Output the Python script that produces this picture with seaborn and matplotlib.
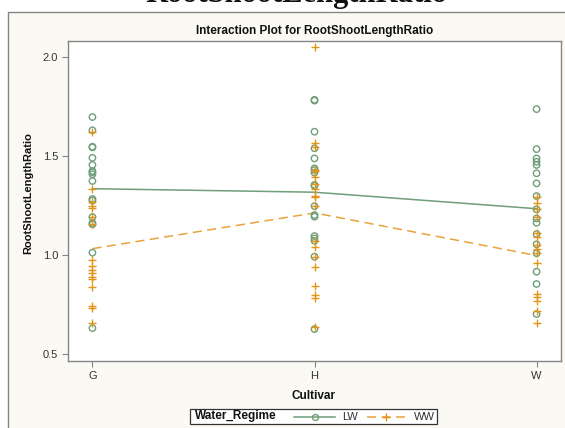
import matplotlib
matplotlib.use("Agg")
import matplotlib.pyplot as plt
from matplotlib.patches import Rectangle
from matplotlib.lines import Line2D
import numpy as np
import pandas as pd
import seaborn as sns

# Root/shoot length ratio per plant, grouped by cultivar and water regime
cultivars = ["G", "H", "W"]
regimes = ["LW", "WW"]

g_lw = [1.697, 1.630, 1.547, 1.544, 1.491, 1.455, 1.424, 1.418, 1.408, 1.374,
        1.283, 1.275, 1.192, 1.162, 1.155, 1.012, 0.631]
g_ww = [1.620, 1.333, 1.270, 1.249, 1.236, 1.194, 1.158, 0.975, 0.946, 0.924,
        0.907, 0.887, 0.877, 0.840, 0.744, 0.731, 0.658]
h_lw = [1.784, 1.780, 1.623, 1.539, 1.488, 1.438, 1.429, 1.416, 1.354, 1.350,
        1.247, 1.202, 1.194, 1.096, 1.084, 1.072, 0.992, 0.626]
h_ww = [2.052, 1.567, 1.544, 1.430, 1.424, 1.395, 1.357, 1.333, 1.300, 1.295,
        1.247, 1.069, 1.042, 0.992, 0.941, 0.843, 0.798, 0.781, 0.635]
w_lw = [1.737, 1.535, 1.488, 1.471, 1.455, 1.413, 1.362, 1.298, 1.231, 1.185,
        1.163, 1.106, 1.054, 1.009, 0.916, 0.854, 0.702]
w_ww = [1.295, 1.261, 1.231, 1.190, 1.113, 1.092, 1.050, 1.029, 1.009, 0.961,
        0.803, 0.786, 0.769, 0.719, 0.658]

y_ticks = [0.5, 1.0, 1.5, 2.0]
y_tick_labels = ["0.5", "1.0", "1.5", "2.0"]

groups = {("G", "LW"): g_lw, ("G", "WW"): g_ww,
          ("H", "LW"): h_lw, ("H", "WW"): h_ww,
          ("W", "LW"): w_lw, ("W", "WW"): w_ww}
rows = []
for (cult, reg), vals in groups.items():
    for v in vals:
        rows.append({"Cultivar": cult, "Water_Regime": reg, "RootShootLengthRatio": v})
df = pd.DataFrame(rows)

LW_COLOR = "#6F9E78"
WW_COLOR = "#E5941A"
WW_LINE = "#E9A23C"
FRAME_BG = "#FBF9F3"
SPINE = "#858585"

W_PX, H_PX = 565, 428
fig = plt.figure(figsize=(W_PX / 100, H_PX / 100), dpi=100, facecolor="white")
plt.rcParams["font.family"] = ["Liberation Sans", "DejaVu Sans"]


def fx(px):
    return px / W_PX


def fy(py):
    return 1 - py / H_PX


# cream graph frame, kept behind the axes
fig.patches.append(Rectangle((fx(8), fy(440)), fx(570) - fx(8), fy(12) - fy(440),
                             transform=fig.transFigure, facecolor=FRAME_BG,
                             edgecolor=SPINE, linewidth=1.0, zorder=-5))

ax = fig.add_axes([fx(68), fy(361), fx(561) - fx(68), fy(41) - fy(361)])
ax.set_facecolor("white")

# raw observations
lw_df = df[df["Water_Regime"] == "LW"]
ww_df = df[df["Water_Regime"] == "WW"]
sns.stripplot(data=lw_df, x="Cultivar", y="RootShootLengthRatio", order=cultivars,
              jitter=False, marker="o", size=4.6, color=LW_COLOR, linewidth=0,
              ax=ax, zorder=3)
n_before = len(ax.collections)
for coll in ax.collections:
    coll.set_facecolor("none")
    coll.set_edgecolor(LW_COLOR)
    coll.set_linewidth(1.0)
sns.stripplot(data=ww_df, x="Cultivar", y="RootShootLengthRatio", order=cultivars,
              jitter=False, marker="+", size=5.5, color=WW_COLOR, linewidth=1.0,
              ax=ax, zorder=3)
for coll in ax.collections[n_before:]:
    coll.set_edgecolor(WW_COLOR)
    coll.set_linewidth(1.0)

# group means joined across cultivars
n_lines = len(ax.lines)
sns.pointplot(data=df, x="Cultivar", y="RootShootLengthRatio", hue="Water_Regime",
              hue_order=regimes, order=cultivars, estimator="mean", errorbar=None,
              palette={"LW": LW_COLOR, "WW": WW_LINE}, markers=["", ""],
              linestyles=["-", "--"], dodge=False, ax=ax, legend=False)
for ln in ax.lines[n_lines:]:
    ln.set_linewidth(1.1)
    ln.set_zorder(2)
    if ln.get_linestyle() == "--":
        ln.set_dashes((6, 3.5))

ax.set_xlim(-0.11, 2.11)
ax.set_ylim(0.465, 2.081)
ax.set_yticks(y_ticks)
ax.set_yticklabels(y_tick_labels)
ax.set_xlabel("")
ax.set_ylabel("")
for s in ax.spines.values():
    s.set_color(SPINE)
    s.set_linewidth(1.0)
ax.tick_params(axis="both", direction="out", length=4, width=0.8, color=SPINE,
               labelsize=8, labelcolor="#333333", pad=3)

# titles and axis labels
fig.text(fx(296), fy(2), "RootShootLengthRatio", family="Liberation Serif",
         weight="bold", fontsize=22, ha="center", va="baseline", color="#111111")
fig.text(fx(315), fy(31), "Interaction Plot for RootShootLengthRatio",
         weight="bold", fontsize=8.5, ha="center", va="center", color="#111111")
fig.text(fx(28), fy(193), "RootShootLengthRatio", weight="bold", fontsize=8,
         rotation=90, ha="center", va="center", color="#111111")
fig.text(fx(314), fy(396), "Cultivar", weight="bold", fontsize=8.5,
         ha="center", va="center", color="#111111")

# legend strip
fig.patches.append(Rectangle((fx(190), fy(424)), fx(437) - fx(190), fy(409) - fy(424),
                             transform=fig.transFigure, facecolor="white",
                             edgecolor="#333333", linewidth=0.9, zorder=1))
ly = fy(416.5)
fig.text(fx(195), ly, "Water_Regime", weight="bold", fontsize=8.5,
         ha="left", va="center", color="#111111", zorder=4)
fig.lines.append(Line2D([fx(294), fx(335)], [ly, ly], transform=fig.transFigure,
                        color=LW_COLOR, linewidth=1.1, zorder=3))
fig.lines.append(Line2D([fx(314.5)], [ly], transform=fig.transFigure, marker="o",
                        markersize=4.3, markerfacecolor="none",
                        markeredgecolor=LW_COLOR, markeredgewidth=1.0,
                        linestyle="none", zorder=3))
fig.text(fx(342), ly, "LW", fontsize=8, ha="left", va="center", color="#333333", zorder=4)
fig.lines.append(Line2D([fx(367), fx(405)], [ly, ly], transform=fig.transFigure,
                        color=WW_LINE, linewidth=1.1, dashes=(6, 3.5), zorder=3))
fig.lines.append(Line2D([fx(386)], [ly], transform=fig.transFigure, marker="+",
                        markersize=5.5, markeredgecolor=WW_COLOR,
                        markeredgewidth=1.0, linestyle="none", zorder=3))
fig.text(fx(414), ly, "WW", fontsize=8, ha="left", va="center", color="#333333", zorder=4)

fig.savefig("out.png", dpi=100, facecolor="white")
